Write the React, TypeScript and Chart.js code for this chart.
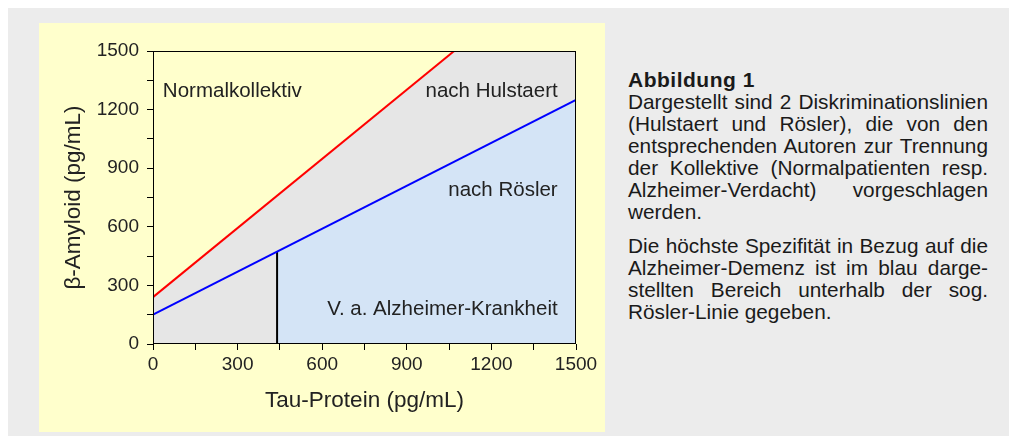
import React, { useEffect, useRef } from 'react';
import { Chart, registerables } from 'chart.js';

Chart.register(...registerables);

// ---- data ----
const hulstaertTau = [0, 1068];
const hulstaertAbeta = [240, 1500];
const roslerTau = [0, 1500];
const roslerAbeta = [150, 1250];
const cutoffTau = [440, 440];
const cutoffAbeta = [0, 473];
const alzheimerTau = [440, 1500];
const alzheimerAbeta = [473, 1250];
const labelledTicks = [0, 300, 600, 900, 1200, 1500];
const regionNames = ['Normalkollektiv', 'nach Hulstaert', 'nach Rösler', 'V. a. Alzheimer-Krankheit'];

// ---- layout of region labels (in axis units) ----
const regionAnchors = [
  { x: 35, y: 1266, align: 'left' },
  { x: 1435, y: 1266, align: 'right' },
  { x: 1435, y: 758, align: 'right' },
  { x: 1435, y: 146, align: 'right' },
];

const paragraph1 = [
  'Dargestellt sind 2 Diskriminationslinien',
  '(Hulstaert und Rösler), die von den',
  'entsprechenden Autoren zur Trennung',
  'der Kollektive (Normalpatienten resp.',
  'Alzheimer-Verdacht) vorgeschlagen',
  'werden.',
];
const paragraph2 = [
  'Die höchste Spezifität in Bezug auf die',
  'Alzheimer-Demenz ist im blau darge-',
  'stellten Bereich unterhalb der sog.',
  'Rösler-Linie gegeben.',
];

const FONT = '"Liberation Sans", Arial, Helvetica, sans-serif';
const toXY = (xs: number[], ys: number[]) => xs.map((x, i) => ({ x, y: ys[i] }));

export default function App() {
  const ref = useRef<HTMLCanvasElement>(null);

  useEffect(() => {
    const canvas = ref.current!;
    const framePlugin = {
      id: 'frame',
      beforeDraw(chart: any) {
        const { ctx, chartArea: a } = chart;
        ctx.save();
        ctx.fillStyle = '#e6e6e6';
        ctx.fillRect(a.left, a.top, a.right - a.left, a.bottom - a.top);
        ctx.restore();
      },
      afterDatasetsDraw(chart: any) {
        const { ctx, chartArea: a, scales } = chart;
        ctx.save();
        ctx.strokeStyle = '#000';
        ctx.lineWidth = 1;
        ctx.strokeRect(Math.round(a.left) + 0.5, Math.round(a.top) + 0.5, Math.round(a.right - a.left) - 1, Math.round(a.bottom - a.top) - 1);
        ctx.fillStyle = '#222';
        ctx.font = `20.5px ${FONT}`;
        ctx.textBaseline = 'alphabetic';
        regionNames.forEach((name, i) => {
          const p = regionAnchors[i];
          ctx.textAlign = p.align as CanvasTextAlign;
          ctx.fillText(name, scales.x.getPixelForValue(p.x), scales.y.getPixelForValue(p.y));
        });
        ctx.restore();
      },
    };

    const chart = new Chart(canvas, {
      type: 'line',
      data: {
        datasets: [
          {
            label: 'Hulstaert',
            data: toXY(hulstaertTau, hulstaertAbeta),
            borderColor: '#ff0000',
            borderWidth: 2,
            pointRadius: 0,
            fill: { target: 'end', above: '#ffffcc', below: '#ffffcc' },
            backgroundColor: '#ffffcc',
          },
          {
            label: 'Rösler',
            data: toXY(roslerTau, roslerAbeta),
            borderColor: '#0000ff',
            borderWidth: 2,
            pointRadius: 0,
            fill: false,
          },
          {
            label: 'Cutoff',
            data: toXY(cutoffTau, cutoffAbeta),
            borderColor: '#000000',
            borderWidth: 2,
            pointRadius: 0,
            fill: false,
          },
          {
            label: 'Alzheimer',
            data: toXY(alzheimerTau, alzheimerAbeta),
            borderWidth: 0,
            borderColor: 'rgba(0,0,0,0)',
            pointRadius: 0,
            fill: 'origin',
            backgroundColor: '#d4e4f6',
          },
        ],
      },
      options: {
        animation: false,
        responsive: false,
        maintainAspectRatio: false,
        layout: { padding: { left: 0, top: 28, right: 29, bottom: 0 } },
        plugins: { legend: { display: false }, tooltip: { enabled: false } },
        font: { family: FONT },
        scales: {
          x: {
            type: 'linear',
            min: 0,
            max: 1500,
            afterFit: (s: any) => { s.height = 88; },
            ticks: {
              stepSize: 150,
              autoSkip: false,
              maxRotation: 0,
              padding: 3,
              color: '#222',
              font: { family: FONT, size: 19 },
              callback: (v: any) => (labelledTicks.includes(Number(v)) ? String(v) : ''),
            },
            grid: { display: true, drawOnChartArea: false, drawTicks: true, tickLength: 6, color: '#000', tickColor: '#000' },
            border: { display: false },
            title: { display: true, text: 'Tau-Protein (pg/mL)', color: '#222', font: { family: FONT, size: 22.5 }, padding: { top: 0, bottom: 18 } },
          },
          y: {
            type: 'linear',
            min: 0,
            max: 1500,
            afterFit: (s: any) => { s.width = 114; },
            ticks: {
              stepSize: 150,
              autoSkip: false,
              padding: 8,
              color: '#222',
              font: { family: FONT, size: 19 },
              callback: (v: any) => (labelledTicks.includes(Number(v)) ? String(v) : ''),
            },
            grid: { display: true, drawOnChartArea: false, drawTicks: true, tickLength: 6, color: '#000', tickColor: '#000' },
            border: { display: false },
            title: { display: true, text: 'β-Amyloid (pg/mL)', color: '#222', font: { family: FONT, size: 22.5 }, padding: { top: 21, bottom: 0 } },
          },
        },
      } as any,
      plugins: [framePlugin],
    });
    return () => chart.destroy();
  }, []);

  const lineStyle = (last: boolean): React.CSSProperties => ({
    whiteSpace: 'nowrap',
    textAlign: last ? 'left' : 'justify',
    textAlignLast: last ? 'left' : 'justify',
  } as React.CSSProperties);

  return (
    <div style={{ position: 'fixed', left: 8, top: 8, right: 0, bottom: 0, background: '#ececec', overflow: 'hidden' }}>
      <div style={{ position: 'absolute', left: 31, top: 15, width: 566, height: 409, background: '#ffffcc' }}>
        <canvas ref={ref} width={566} height={409} style={{ display: 'block', width: 566, height: 409 }} />
      </div>
      <div style={{ position: 'absolute', left: 620, top: 61, width: 360, fontFamily: FONT, fontSize: 20.8, lineHeight: '22px', color: '#1a1a1a' }}>
        <div style={{ fontWeight: 'bold', fontSize: 21, letterSpacing: 0.5 }}>Abbildung 1</div>
        <div>
          {paragraph1.map((l, i) => (
            <div key={i} style={lineStyle(i === paragraph1.length - 1)}>{l}</div>
          ))}
        </div>
        <div style={{ marginTop: 12 }}>
          {paragraph2.map((l, i) => (
            <div key={i} style={lineStyle(i === paragraph2.length - 1)}>{l}</div>
          ))}
        </div>
      </div>
    </div>
  );
}
